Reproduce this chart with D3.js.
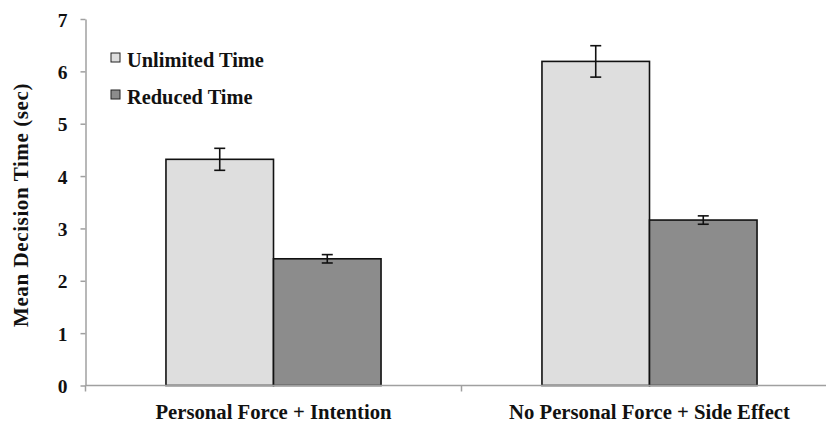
<!DOCTYPE html>
<html>
<head>
<meta charset="utf-8">
<script src="https://cdn.jsdelivr.net/npm/d3@7"></script>
<style>
  html, body { margin: 0; padding: 0; background: #fff; }
  svg { display: block; }
  text { font-family: "Liberation Serif", "Times New Roman", serif; font-weight: bold; fill: #111; }
</style>
</head>
<body>
<svg id="chart" width="826" height="423"></svg>
<script>
const categories = ["Personal Force + Intention", "No Personal Force + Side Effect"];
const seriesNames = ["Unlimited Time", "Reduced Time"];
const unlimitedValues = [4.32, 6.19];
const unlimitedErrors = [0.21, 0.30];
const reducedValues = [2.42, 3.16];
const reducedErrors = [0.08, 0.08];
const yTicks = [0, 1, 2, 3, 4, 5, 6, 7];
const seriesColors = ["#dedede", "#8c8c8c"];

const svg = d3.select("#chart");
const mLeft = 85.5, mRight = 837.5, mTop = 19, mBottom = 385.5;

const x = d3.scaleBand().domain(categories).range([mLeft, mRight]).paddingInner(0).paddingOuter(0);
const bw = x.bandwidth();
const xs = d3.scaleBand().domain(seriesNames).range([bw * 0.214, bw * 0.786]).padding(0);
const y = d3.scaleLinear().domain([0, 7]).range([mBottom, mTop]);

const data = categories.map((c, i) => ({
  cat: c,
  items: [
    { s: seriesNames[0], v: unlimitedValues[i], e: unlimitedErrors[i], color: seriesColors[0] },
    { s: seriesNames[1], v: reducedValues[i], e: reducedErrors[i], color: seriesColors[1] }
  ]
}));

// Y axis
const yAxis = svg.append("g").attr("transform", `translate(${mLeft},0)`)
  .call(d3.axisLeft(y).tickValues(yTicks).tickFormat(d3.format("d")).tickSize(5).tickPadding(13).tickSizeOuter(0));
yAxis.select(".domain").attr("stroke", "#a0a0a0").attr("stroke-width", 1.5);
yAxis.selectAll(".tick line").attr("stroke", "#a0a0a0").attr("stroke-width", 1.5);
yAxis.selectAll(".tick text").attr("font-size", 19.5).attr("font-family", "Liberation Serif, Times New Roman, serif").attr("font-weight", "bold").attr("fill", "#111").attr("dy", "0.36em");

// Bars
const groups = svg.append("g").selectAll("g").data(data).join("g")
  .attr("transform", d => `translate(${x(d.cat)},0)`);

groups.selectAll("rect").data(d => d.items).join("rect")
  .attr("x", d => xs(d.s))
  .attr("y", d => y(d.v))
  .attr("width", xs.bandwidth())
  .attr("height", d => y(0) - y(d.v))
  .attr("fill", d => d.color)
  .attr("stroke", "#111")
  .attr("stroke-width", 1.6);

// Error bars
const eb = groups.selectAll("g.err").data(d => d.items).join("g").attr("class", "err")
  .attr("stroke", "#111").attr("stroke-width", 1.6);
eb.append("line")
  .attr("x1", d => xs(d.s) + xs.bandwidth() / 2).attr("x2", d => xs(d.s) + xs.bandwidth() / 2)
  .attr("y1", d => y(d.v + d.e)).attr("y2", d => y(d.v - d.e));
eb.append("line")
  .attr("x1", d => xs(d.s) + xs.bandwidth() / 2 - 5.5).attr("x2", d => xs(d.s) + xs.bandwidth() / 2 + 5.5)
  .attr("y1", d => y(d.v + d.e)).attr("y2", d => y(d.v + d.e));
eb.append("line")
  .attr("x1", d => xs(d.s) + xs.bandwidth() / 2 - 5.5).attr("x2", d => xs(d.s) + xs.bandwidth() / 2 + 5.5)
  .attr("y1", d => y(d.v - d.e)).attr("y2", d => y(d.v - d.e));

// X axis
const xg = svg.append("g");
xg.append("line").attr("x1", mLeft).attr("x2", mRight).attr("y1", mBottom).attr("y2", mBottom)
  .attr("stroke", "#a0a0a0").attr("stroke-width", 1.5);
const boundaries = categories.map(c => x(c)).concat([x(categories[categories.length - 1]) + bw]);
xg.selectAll("line.tk").data(boundaries).join("line").attr("class", "tk")
  .attr("x1", d => d).attr("x2", d => d).attr("y1", mBottom).attr("y2", mBottom + 6)
  .attr("stroke", "#a0a0a0").attr("stroke-width", 1.5);
xg.selectAll("text").data(categories).join("text")
  .attr("x", d => x(d) + bw / 2).attr("y", 418.5)
  .attr("text-anchor", "middle").attr("font-size", 20.7)
  .text(d => d);

// Y title
svg.append("text")
  .attr("transform", "translate(28,205) rotate(-90)")
  .attr("text-anchor", "middle").attr("font-size", 21).attr("letter-spacing", 0.6)
  .text("Mean Decision Time (sec)");

// Legend
const legendY = [53, 90];
const lg = svg.append("g").selectAll("g").data(seriesNames).join("g");
lg.append("rect")
  .attr("x", 111).attr("y", (d, i) => legendY[i]).attr("width", 9).attr("height", 9)
  .attr("fill", (d, i) => seriesColors[i]).attr("stroke", "#222").attr("stroke-width", 1);
lg.append("text")
  .attr("x", 127).attr("y", (d, i) => legendY[i] + 14.3)
  .attr("font-size", 20.4)
  .text(d => d);
</script>
</body>
</html>
